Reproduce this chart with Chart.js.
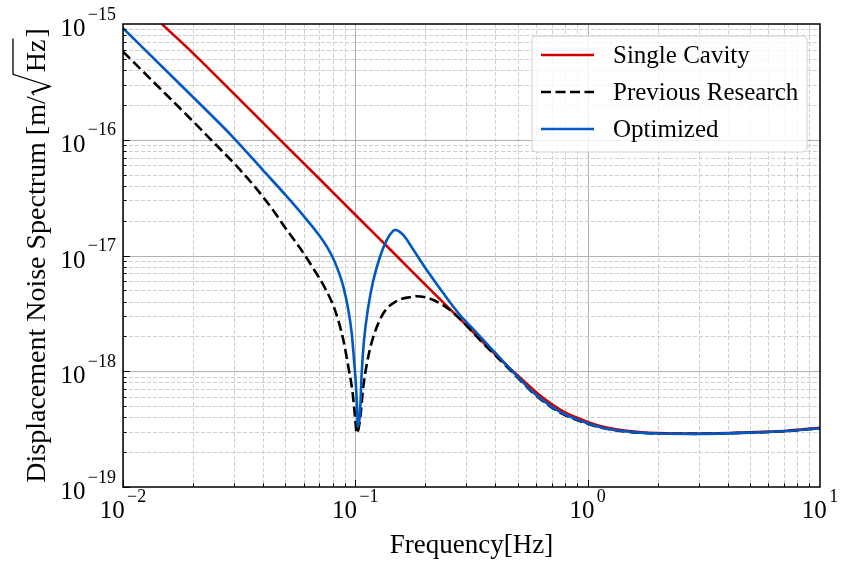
<!DOCTYPE html>
<html><head><meta charset="utf-8">
<script src="https://cdn.jsdelivr.net/npm/chart.js@4.4.0/dist/chart.umd.min.js"></script>
<style>html,body{margin:0;padding:0;background:#fff}#wrap{width:848px;height:566px;position:relative}</style>
</head><body><div id="wrap"><canvas id="c"></canvas></div>
<script>
const FONT = '"Liberation Serif", "Times New Roman", serif';

const seriesNames = ['Single Cavity', 'Previous Research', 'Optimized'];
const seriesColors = ['#d10000', '#000000', '#0058c4'];

const xTickExps = [-2, -1, 0, 1];
const yTickExps = [-19, -18, -17, -16, -15];

const freqSingle = [0.0147, 0.02, 0.03, 0.05, 0.07, 0.1, 0.15, 0.2, 0.3, 0.4, 0.5, 0.6, 0.7, 0.8, 1.0, 1.131, 1.5, 2.0, 3.0, 5.0, 7.0, 10];
const singleCavity = [1.0e-15, 5.6e-16, 2.5e-16, 9.0e-17, 4.6e-17, 2.25e-17, 1.0e-17, 5.6e-18, 2.5e-18, 1.4e-18, 9.2e-19, 6.6e-19, 5.2e-19, 4.4e-19, 3.65e-19, 3.37e-19, 3.05e-19, 2.93e-19, 2.9e-19, 2.97e-19, 3.05e-19, 3.25e-19];

const freqPrevious = [0.01, 0.015, 0.02, 0.025, 0.03, 0.035, 0.04, 0.045, 0.05, 0.0578, 0.0659, 0.0741, 0.0818, 0.0888, 0.0933, 0.0974, 0.0997, 0.1014, 0.1047, 0.1082, 0.1137, 0.1196, 0.132, 0.1508, 0.1777, 0.183, 0.2167, 0.2557, 0.2917, 0.3441, 0.4197, 0.5117, 0.5837, 0.7605, 1.0, 1.131, 1.5, 2.0, 3.0, 5.0, 7.0, 10];
const previousResearch = [5.78e-16, 2.57e-16, 1.445e-16, 9.14e-17, 6.28e-17, 4.46e-17, 3.22e-17, 2.35e-17, 1.73e-17, 1.16e-17, 7.74e-18, 5.21e-18, 3.36e-18, 1.86e-18, 1.09e-18, 6.45e-19, 4.05e-19, 2.91e-19, 3.79e-19, 7.35e-19, 1.34e-18, 1.99e-18, 3.17e-18, 4.05e-18, 4.41e-18, 4.45e-18, 4.13e-18, 3.38e-18, 2.65e-18, 1.86e-18, 1.25e-18, 8.4e-19, 6.45e-19, 4.4e-19, 3.52e-19, 3.27e-19, 3.0e-19, 2.9e-19, 2.88e-19, 2.95e-19, 3.03e-19, 3.22e-19];

const freqOptimized = [0.01, 0.02, 0.03, 0.04, 0.05, 0.06, 0.07, 0.0753, 0.08, 0.0832, 0.0888, 0.0933, 0.0965, 0.0987, 0.1007, 0.102, 0.1024, 0.1047, 0.1065, 0.109, 0.1137, 0.1196, 0.1277, 0.1365, 0.1458, 0.1483, 0.161, 0.1777, 0.2029, 0.2392, 0.2823, 0.3331, 0.3927, 0.4787, 0.5837, 0.7605, 1.0, 1.131, 1.5, 2.0, 3.0, 5.0, 7.0, 10];
const optimized = [9.2e-16, 2.34e-16, 1.035e-16, 5.47e-17, 3.34e-17, 2.19e-17, 1.49e-17, 1.2e-17, 9.57e-18, 7.98e-18, 5.38e-18, 3.38e-18, 2.13e-18, 1.25e-18, 7.35e-19, 4.33e-19, 3.32e-19, 4.33e-19, 9.6e-19, 1.86e-18, 3.61e-18, 6.14e-18, 9.76e-18, 1.36e-17, 1.64e-17, 1.66e-17, 1.5e-17, 1.12e-17, 7.49e-18, 4.72e-18, 3.06e-18, 2.15e-18, 1.5e-18, 9.8e-19, 6.55e-19, 4.45e-19, 3.55e-19, 3.28e-19, 3.0e-19, 2.9e-19, 2.88e-19, 2.95e-19, 3.03e-19, 3.22e-19];

const xTitle = 'Frequency[Hz]';
const yTitleParts = ['Displacement Noise Spectrum [m/', 'Hz', ']'];

function pts(xs, ys) { return xs.map((x, i) => ({ x: x, y: ys[i] })); }
function expLabel(e) { return String(e).replace('-', '\u2212'); }

const gridPlugin = {
  id: 'mplGrid',
  beforeDatasetsDraw(chart) {
    const { ctx, chartArea: a, scales: { x, y } } = chart;
    ctx.save();
    ctx.beginPath(); ctx.rect(a.left, a.top, a.right - a.left, a.bottom - a.top); ctx.clip();
    ctx.lineWidth = 1;
    for (let d = xTickExps[0]; d < xTickExps[xTickExps.length - 1]; d++) {
      for (let m = 1; m <= 9; m++) {
        const px = Math.round(x.getPixelForValue(m * Math.pow(10, d))) + 0.5;
        ctx.strokeStyle = m === 1 ? '#b2b2b2' : '#cfcfcf';
        ctx.setLineDash(m === 1 ? [] : [4, 2]);
        ctx.beginPath(); ctx.moveTo(px, a.top); ctx.lineTo(px, a.bottom); ctx.stroke();
      }
    }
    for (let d = yTickExps[0]; d < yTickExps[yTickExps.length - 1]; d++) {
      for (let m = 1; m <= 9; m++) {
        const py = Math.round(y.getPixelForValue(m * Math.pow(10, d))) + 0.5;
        ctx.strokeStyle = m === 1 ? '#b2b2b2' : '#cfcfcf';
        ctx.setLineDash(m === 1 ? [] : [4, 2]);
        ctx.beginPath(); ctx.moveTo(a.left, py); ctx.lineTo(a.right, py); ctx.stroke();
      }
    }
    ctx.restore();
  },
  afterDatasetsDraw(chart) {
    const { ctx, chartArea: a, scales: { x, y } } = chart;
    ctx.save();
    // inward ticks
    ctx.strokeStyle = '#000'; ctx.lineWidth = 1; ctx.setLineDash([]);
    for (let d = yTickExps[0]; d < yTickExps[yTickExps.length - 1]; d++) {
      for (let m = 1; m <= 9; m++) {
        const py = Math.round(y.getPixelForValue(m * Math.pow(10, d))) + 0.5;
        const len = m === 1 ? 7 : 3.5;
        ctx.beginPath(); ctx.moveTo(a.left, py); ctx.lineTo(a.left + len, py); ctx.stroke();
      }
    }
    for (let d = xTickExps[0]; d < xTickExps[xTickExps.length - 1]; d++) {
      for (let m = 1; m <= 9; m++) {
        const px = Math.round(x.getPixelForValue(m * Math.pow(10, d))) + 0.5;
        const len = m === 1 ? 7 : 3.5;
        ctx.beginPath(); ctx.moveTo(px, a.bottom); ctx.lineTo(px, a.bottom - len); ctx.stroke();
      }
    }
    // frame
    ctx.lineWidth = 1.5;
    ctx.strokeRect(a.left, a.top, a.right - a.left, a.bottom - a.top);

    // tick labels
    ctx.fillStyle = '#000';
    ctx.textBaseline = 'alphabetic'; ctx.textAlign = 'left';
    const bigF = '25px ' + FONT, supF = '18px ' + FONT;
    const gap = 2.4;
    yTickExps.forEach(e => {
      const py = y.getPixelForValue(Math.pow(10, e));
      ctx.font = supF; const ws = ctx.measureText(expLabel(e)).width;
      ctx.font = bigF; const wb = ctx.measureText('10').width;
      const sx = a.left - 7 - ws;
      ctx.font = bigF; ctx.fillText('10', sx - gap - wb, py + 12.2);
      ctx.font = supF; ctx.fillText(expLabel(e), sx, py - 4.5);
    });
    xTickExps.forEach(e => {
      const px = x.getPixelForValue(Math.pow(10, e));
      ctx.font = supF; const ws = ctx.measureText(expLabel(e)).width;
      ctx.font = bigF; const wb = ctx.measureText('10').width;
      const start = px - (wb + ws + gap) / 2;
      ctx.font = bigF; ctx.fillText('10', start, a.bottom + 31.4);
      ctx.font = supF; ctx.fillText(expLabel(e), start + wb + gap, a.bottom + 14.7);
    });

    // x title
    ctx.font = '27px ' + FONT; ctx.textAlign = 'center';
    ctx.fillText(xTitle, (a.left + a.right) / 2, a.bottom + 66);

    // y title (rotated) with radical
    ctx.save();
    const cy = (a.top + a.bottom) / 2;
    ctx.translate(45, cy); ctx.rotate(-Math.PI / 2);
    ctx.font = '28px ' + FONT; ctx.textAlign = 'left';
    const w1 = ctx.measureText(yTitleParts[0]).width;
    const w2 = ctx.measureText(yTitleParts[1]).width;
    const w3 = ctx.measureText(yTitleParts[2]).width;
    const radW = 22, g2 = 2;
    const total = w1 + radW + g2 + w2 + 2 + w3;
    let u = -total / 2;
    ctx.fillText(yTitleParts[0], u, 0);
    u += w1;
    ctx.lineWidth = 1.3; ctx.lineJoin = 'miter';
    ctx.beginPath();
    ctx.moveTo(u + 1, -11); ctx.lineTo(u + 4, -13);
    ctx.lineTo(u + 10, 5);
    ctx.lineTo(u + radW, -32);
    ctx.lineTo(u + radW + g2 + w2 + 1, -32);
    ctx.stroke();
    ctx.beginPath(); ctx.lineWidth = 2;
    ctx.moveTo(u + 4, -13); ctx.lineTo(u + 10, 5); ctx.stroke();
    u += radW + g2;
    ctx.fillText(yTitleParts[1], u, 0);
    u += w2 + 2;
    ctx.fillText(yTitleParts[2], u, 0);
    ctx.restore();

    // legend
    const lx = 532, ly = 36, lw = 275, lh = 116, r = 4;
    ctx.beginPath();
    ctx.moveTo(lx + r, ly); ctx.lineTo(lx + lw - r, ly); ctx.arcTo(lx + lw, ly, lx + lw, ly + r, r);
    ctx.lineTo(lx + lw, ly + lh - r); ctx.arcTo(lx + lw, ly + lh, lx + lw - r, ly + lh, r);
    ctx.lineTo(lx + r, ly + lh); ctx.arcTo(lx, ly + lh, lx, ly + lh - r, r);
    ctx.lineTo(lx, ly + r); ctx.arcTo(lx, ly, lx + r, ly, r); ctx.closePath();
    ctx.fillStyle = 'rgba(255,255,255,0.8)'; ctx.fill();
    ctx.strokeStyle = '#d0d0d0'; ctx.lineWidth = 1; ctx.stroke();
    const rows = [55, 92, 129];
    chart.data.datasets.forEach((ds, i) => {
      ctx.strokeStyle = ds.borderColor; ctx.lineWidth = ds.borderWidth;
      ctx.setLineDash(ds.borderDash || []);
      ctx.beginPath(); ctx.moveTo(541, rows[i]); ctx.lineTo(594, rows[i]); ctx.stroke();
      ctx.setLineDash([]);
      ctx.fillStyle = '#000'; ctx.font = '25px ' + FONT; ctx.textAlign = 'left';
      ctx.fillText(ds.label, 613, rows[i] + 8);
    });
    ctx.restore();
  }
};

new Chart(document.getElementById('c'), {
  type: 'line',
  data: {
    datasets: [
      { label: seriesNames[0], data: pts(freqSingle, singleCavity), borderColor: seriesColors[0], borderWidth: 2.6, pointRadius: 0, fill: false, cubicInterpolationMode: 'monotone', order: 3 },
      { label: seriesNames[1], data: pts(freqPrevious, previousResearch), borderColor: seriesColors[1], borderWidth: 2.6, borderDash: [10, 4.5], pointRadius: 0, fill: false, cubicInterpolationMode: 'monotone', order: 2 },
      { label: seriesNames[2], data: pts(freqOptimized, optimized), borderColor: seriesColors[2], borderWidth: 2.6, pointRadius: 0, fill: false, cubicInterpolationMode: 'monotone', order: 1 }
    ]
  },
  options: {
    responsive: true, maintainAspectRatio: false, animation: false,
    layout: { padding: { left: 0, right: 28, top: 24, bottom: 0 } },
    plugins: { legend: { display: false }, tooltip: { enabled: false } },
    scales: {
      x: { type: 'logarithmic', min: 0.01, max: 10, grid: { display: false }, border: { display: false }, ticks: { display: false }, afterFit: s => { s.height = 79; } },
      y: { type: 'logarithmic', min: 1e-19, max: 1e-15, grid: { display: false }, border: { display: false }, ticks: { display: false }, afterFit: s => { s.width = 123; } }
    }
  },
  plugins: [gridPlugin]
});
</script></body></html>
